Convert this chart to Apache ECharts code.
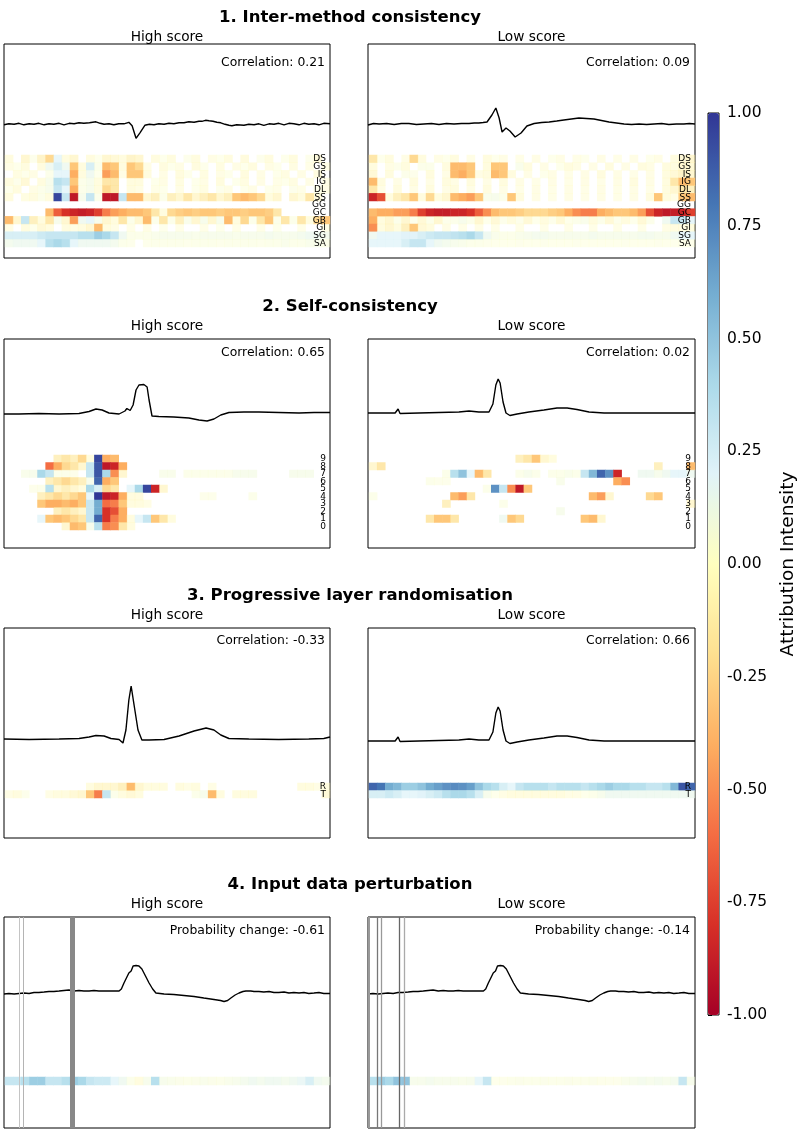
<!DOCTYPE html>
<html>
<head>
<meta charset="utf-8">
<script src="https://cdn.jsdelivr.net/npm/echarts@6/dist/echarts.min.js"></script>
<style>
html, body { margin: 0; padding: 0; background: #fff; }
#main { width: 800px; height: 1133px; }
</style>
</head>
<body>
<div id="main"></div>
<script>
// ---- signals: [time (ms), amplitude] ----
var ecgInterHigh = [[0,-0.01],[15,0.01],[31,0],[46,0.02],[61,-0.01],[77,0.01],[92,0],[107,0.02],[123,-0.01],[138,0.01],[153,0],[169,0.02],[184,-0.01],[200,0.02],[215,0.01],[230,0.03],[245,0.02],[262,0.03],[282,0.05],[295,0.02],[307,0],[322,0.01],[337,-0.01],[352,0.01],[368,0.01],[383,0.04],[393,-0.03],[405,-0.28],[417,-0.17],[432,-0.02],[446,0],[460,-0.01],[475,0.01],[491,0],[506,0.02],[521,0.01],[537,0.03],[552,0.03],[567,0.05],[583,0.04],[598,0.06],[607,0.06],[618,0.08],[629,0.07],[641,0.06],[653,0.04],[665,0.03],[678,0],[690,-0.02],[699,-0.03],[714,-0.01],[736,-0.02],[751,0],[767,-0.01],[782,0.01],[797,-0.02],[813,0.01],[828,0],[843,0.02],[859,-0.01],[874,0.02],[889,0.01],[905,-0.01],[920,0.02],[935,0],[951,0.01],[966,-0.01],[981,0.02],[1000,0.01]];
var ecgInterLow = [[0,-0.02],[17,0.01],[34,0],[57,0.01],[80,-0.01],[102,0.01],[125,0.01],[148,-0.01],[171,0],[194,0.01],[217,-0.01],[240,0.01],[263,0],[286,0.01],[309,0.01],[325,0.02],[339,0.02],[352,0.03],[364,0.04],[379,0.18],[391,0.32],[401,0.12],[410,-0.16],[422,-0.08],[434,-0.14],[450,-0.26],[468,-0.18],[486,-0.04],[508,0.01],[531,0.03],[554,0.04],[577,0.06],[599,0.08],[622,0.1],[645,0.12],[668,0.11],[691,0.1],[714,0.07],[737,0.04],[760,0.02],[783,0],[806,-0.01],[829,0],[852,-0.01],[875,0],[898,0.01],[920,-0.01],[943,0],[966,0],[983,0.01],[1000,0]];
var ecgSelfHigh = [[0,0],[46,0],[107,0.01],[169,0],[230,0.01],[261,0.05],[282,0.1],[301,0.08],[322,0.02],[353,0],[371,0.06],[377,0.11],[387,0.07],[396,0.18],[405,0.48],[414,0.58],[429,0.59],[439,0.54],[445,0.28],[454,-0.04],[475,-0.05],[521,-0.06],[567,-0.08],[598,-0.12],[623,-0.14],[644,-0.1],[665,-0.02],[690,0.03],[736,0.04],[782,0.04],[843,0.03],[905,0.02],[951,0.03],[1000,0.03]];
var ecgLow = [[0,0],[49,0],[83,0],[92,0.08],[98,-0.01],[156,0],[217,0.01],[278,0.02],[309,0.04],[339,0.02],[370,0.02],[382,0.18],[391,0.56],[398,0.68],[404,0.6],[413,0.22],[422,0],[434,-0.05],[456,-0.02],[492,0.02],[538,0.06],[578,0.1],[609,0.1],[639,0.07],[676,0.02],[722,0],[783,0],[859,0],[936,0],[1000,0]];
var ecgRandHigh = [[0,0],[77,-0.01],[169,0],[230,0.01],[261,0.04],[282,0.07],[307,0.06],[328,0.01],[353,-0.01],[365,-0.08],[374,0.18],[383,0.78],[390,1.06],[399,0.68],[411,0.18],[423,-0.02],[445,-0.02],[491,-0.01],[537,0.06],[583,0.16],[620,0.22],[644,0.18],[665,0.08],[690,0.01],[751,0],[843,-0.01],[935,0],[981,0.01],[1000,0.04]];
var ecgPerturb = [[0,-0.02],[15,-0.01],[31,-0.02],[46,-0.01],[61,0],[77,-0.01],[92,0.01],[107,0.01],[123,0.02],[138,0.03],[153,0.03],[169,0.04],[184,0.05],[199,0.06],[215,0.04],[230,0.05],[245,0.04],[261,0.04],[276,0.05],[291,0.04],[307,0.04],[322,0.04],[338,0.04],[353,0.04],[360,0.08],[368,0.2],[383,0.4],[390,0.44],[396,0.54],[405,0.55],[414,0.54],[423,0.48],[434,0.34],[445,0.2],[456,0.08],[466,0],[491,-0.02],[521,-0.03],[552,-0.05],[583,-0.07],[613,-0.1],[644,-0.13],[664,-0.15],[675,-0.17],[686,-0.15],[696,-0.1],[709,-0.04],[721,0],[733,0.03],[742,0.04],[757,0.04],[767,0.03],[782,0.03],[797,0.02],[813,0.03],[828,0.01],[843,0.01],[859,0.02],[874,0],[889,0.01],[905,0],[920,0.01],[935,-0.01],[951,0],[966,0.01],[981,-0.01],[1000,-0.01]];

// ---- heatmap rows (top to bottom), 40 time bins ----
var methodLabels = ['DS','GS','IS','IG','DL','SS','GG','GC','GB','GI','SG','SA'];
var neuronLabels = ['9','8','7','6','5','4','3','2','1','0'];
var layerLabels = ['R','T'];

var interHigh = [
 [-0.05,0,-0.1,0.03,-0.12,-0.25,0.2,-0.05,-0.1,0,-0.05,0.02,-0.1,-0.08,-0.05,-0.12,-0.1,0,-0.05,0.02,-0.05,0,0.03,-0.05,0,-0.03,0.02,-0.05,0,-0.06,0,0.03,-0.05,0,0.02,-0.05,0,0.03,-0.06,0],
 [-0.03,0.02,-0.05,0,-0.05,0.15,0.25,0.15,-0.3,-0.05,0.25,0.05,-0.35,-0.3,-0.05,-0.3,-0.25,-0.03,0,-0.05,0.02,-0.03,0,-0.05,0.02,0,-0.04,0,-0.03,0.02,-0.05,0,-0.03,0.02,0,-0.04,0,-0.02,0,-0.03],
 [0,-0.04,0.02,-0.03,0,0.05,0.2,0.2,-0.4,-0.05,0.15,0.02,-0.45,-0.35,-0.03,-0.3,-0.3,-0.05,0,-0.03,0,-0.05,0.02,0,-0.04,0,-0.03,0.02,0,-0.05,0,-0.03,0,0.02,-0.04,0,-0.03,0,-0.05,0],
 [-0.05,0.03,-0.08,0,-0.05,0.1,0.35,0.3,-0.3,0.05,0.1,-0.05,-0.2,-0.2,0,-0.05,-0.05,0,0.02,-0.03,0,-0.04,0,0.02,-0.03,0,-0.05,0,0.02,-0.04,0,-0.03,0,-0.02,0.02,-0.04,0,-0.03,0,-0.02],
 [0.02,-0.05,0,-0.03,0.05,0.1,0.3,0.2,-0.4,0.05,0.1,-0.05,-0.25,-0.2,0,-0.05,-0.03,0,-0.02,0.02,0,-0.03,0,0.02,-0.04,0,0.03,-0.03,0,0.02,-0.03,0,0.02,-0.02,0,0.03,-0.02,0,0.02,-0.03],
 [-0.05,0,-0.04,-0.05,0.05,-0.05,0.95,0.3,-0.9,0.1,0.3,0.05,-0.9,-0.9,0.3,-0.35,-0.35,-0.1,-0.15,0.05,-0.15,-0.1,-0.2,-0.1,-0.15,-0.2,-0.1,-0.15,-0.3,-0.35,-0.3,-0.25,-0.05,-0.1,0,-0.1,-0.05,-0.2,-0.05,0],
 [0,0,0,0,0,0,0,0,0,0,0,0,0,0,0,0,0,0,0,0,0,0,0,0,0,0,0,0,0,0,0,0,0,0,0,0,0,0,0,0],
 [0,0,0,0,0,-0.35,-0.65,-0.8,-0.85,-0.88,-0.85,-0.75,-0.55,-0.45,-0.4,-0.35,-0.35,-0.3,-0.2,-0.05,-0.25,-0.28,-0.3,-0.28,-0.3,-0.3,-0.28,-0.3,-0.3,-0.28,-0.3,-0.3,-0.28,-0.2,0,0,0,0,0,0],
 [-0.35,-0.1,0.3,-0.15,-0.05,-0.2,0.1,-0.1,-0.45,0.15,0.2,0.1,-0.1,-0.05,-0.2,0.05,-0.1,-0.35,0.05,-0.2,0.05,-0.15,0.08,-0.1,0.1,-0.1,0.1,-0.35,-0.05,-0.25,0.05,-0.2,-0.3,0.05,-0.2,0.05,-0.2,-0.05,-0.25,-0.3],
 [-0.03,0,-0.05,0.02,-0.08,-0.05,0,-0.05,-0.03,-0.05,-0.1,-0.35,-0.05,-0.03,0,-0.02,0,-0.03,0,0.02,0,-0.02,0,0,-0.02,0,0.02,0,-0.02,0,0,-0.02,0,0.02,0,0,-0.02,0,0,-0.02],
 [0.25,0.25,0.25,0.25,0.28,0.3,0.3,0.3,0.3,0.35,0.35,0.45,0.4,0.3,0.15,0.05,0.05,0.05,0.08,0.1,0.1,0.1,0.1,0.08,0.1,0.1,0.1,0.1,0.08,0.1,0.1,0.1,0.12,0.1,0.1,0.1,0.12,0.15,0.15,0.12],
 [0.12,0.15,0.15,0.15,0.2,0.35,0.4,0.35,0.2,0.15,0.15,0.15,0.15,0.12,0.05,0.03,0,0.03,0.05,0.05,0.05,0.05,0.03,0.05,0.05,0.05,0.03,0.05,0.05,0.05,0.05,0.03,0.05,0.05,0.08,0.05,0.05,0.08,0.08,0.05]
];
var interLow = [
 [-0.2,0.02,-0.05,0,-0.03,-0.25,-0.05,0,-0.03,0.02,-0.05,0,-0.03,0,-0.05,0.02,-0.03,0,-0.02,0,-0.03,0,0.02,-0.03,0,-0.02,0.02,0,-0.03,0,-0.02,0,-0.03,0,0.02,-0.03,0,-0.05,-0.08,-0.1],
 [-0.05,0,-0.03,0.03,-0.05,0,0.05,0.05,0,-0.05,-0.35,-0.35,-0.3,0,-0.05,-0.3,-0.3,0,0.08,-0.05,0,-0.03,0,0.02,-0.05,-0.03,0,-0.03,0,-0.05,0,-0.03,0,-0.05,-0.03,0,-0.05,-0.05,-0.1,-0.08],
 [-0.08,0,-0.05,0,0.05,0.03,0,-0.05,0,-0.03,-0.35,-0.4,-0.3,-0.03,-0.05,-0.35,-0.3,-0.05,0,-0.03,0,0.02,-0.03,0,-0.02,0,-0.03,0,-0.05,0,-0.03,0,-0.02,0,-0.03,0,-0.05,-0.08,-0.12,-0.1],
 [-0.35,-0.05,0,-0.03,0,-0.05,0,-0.03,0,-0.05,-0.03,0,-0.05,0,-0.03,0,-0.05,0,-0.03,0,-0.02,0,-0.03,0,-0.02,0,-0.03,0,-0.02,0,-0.03,0,-0.05,0,-0.03,0,-0.05,-0.2,-0.35,-0.3],
 [-0.2,-0.03,0,-0.05,0,-0.03,0,-0.05,0,-0.03,-0.05,0,-0.03,0,-0.05,0,-0.03,0,-0.02,0,-0.03,0,-0.02,0,-0.03,0,-0.02,0,-0.03,0,-0.02,0,-0.03,0,-0.02,0,-0.05,-0.1,-0.2,-0.15],
 [-0.85,-0.7,-0.05,-0.15,-0.2,-0.3,-0.05,-0.25,-0.05,-0.1,-0.35,-0.4,-0.45,-0.3,0.08,0.1,0.05,-0.3,-0.05,0,-0.03,0,-0.02,0,-0.03,0,-0.02,0,-0.03,0,-0.02,0,-0.03,0,-0.05,-0.3,-0.05,-0.03,-0.3,-0.35],
 [0,0,0,0,0,0,0,0,0,0,0,0,0,0,0,0,0,0,0,0,0,0,0,0,0,0,0,0,0,0,0,0,0,0,0,0,0,0,0,0],
 [-0.35,-0.4,-0.4,-0.45,-0.45,-0.55,-0.75,-0.85,-0.88,-0.88,-0.85,-0.85,-0.8,-0.65,-0.5,-0.35,-0.3,-0.3,-0.28,-0.25,-0.25,-0.25,-0.28,-0.3,-0.4,-0.5,-0.55,-0.55,-0.4,-0.35,-0.3,-0.3,-0.35,-0.45,-0.7,-0.85,-0.9,-0.88,-0.85,-0.75],
 [-0.4,-0.05,-0.1,0.05,-0.1,0.03,-0.08,0.05,-0.1,0.03,0.05,0.1,0.05,-0.1,0.02,-0.08,0.03,-0.05,0.03,-0.08,0.02,-0.05,0.03,-0.08,0.02,0.05,0.08,-0.05,0.05,-0.08,0.03,-0.05,0.02,-0.08,0.05,0,0.15,0.3,0.3,0.2],
 [-0.5,-0.05,-0.1,-0.05,-0.15,-0.3,-0.08,-0.05,0,-0.03,0,-0.02,0,-0.03,0,-0.02,0,0,-0.02,0,0,-0.02,0,0,-0.02,0,0,-0.02,0,0,-0.02,0,0,-0.02,0,0,-0.03,-0.05,-0.05,-0.05],
 [0.15,0.2,0.2,0.2,0.22,0.22,0.25,0.28,0.3,0.3,0.32,0.35,0.4,0.3,0.15,0.08,0.05,0.05,0.08,0.1,0.12,0.12,0.1,0.1,0.1,0.1,0.1,0.12,0.1,0.1,0.1,0.1,0.1,0.12,0.12,0.1,0.1,0.15,0.2,0.2],
 [0.2,0.2,0.2,0.2,0.25,0.3,0.3,0.2,0.15,0.12,0.1,0.08,0.05,0.05,0.03,0.02,0.02,0.02,0.03,0.02,0.02,0.03,0.02,0.02,0.02,0.03,0.02,0.02,0.02,0.02,0.02,0.03,0.02,0.02,0.02,0.03,0.02,0.02,0.02,0.02]
];
var selfHigh = [
 [0,0,0,0,0,0,-0.15,-0.2,-0.15,-0.25,-0.05,0.95,-0.4,-0.35,0,0,0,0,0,0,0,0,0,0,0,0,0,0,0,0,0,0,0,0,0,0,0,0,0,0],
 [0,0,0,0,0,-0.6,-0.4,-0.25,-0.2,-0.1,0.3,0.9,-0.9,-0.85,-0.4,0,0,0,0,0,0,0,0,0,0,0,0,0,0,0,0,0,0,0,0,0,0,0,0,0],
 [0,0,0.08,0.1,0.4,0.3,0.05,0.05,0.03,0,0.3,0.9,0.4,-0.5,-0.1,0,0,0,0,0.08,0.08,0,0.05,0.05,0.05,0.05,0.05,0.05,0.1,0.1,0.1,0,0,0,0,0.1,0.1,0.1,0,0],
 [0,0,0,0,0,-0.15,-0.2,-0.25,-0.2,-0.15,0.1,0.85,-0.4,-0.3,0,0,0,0,0,0,0,0,0,0,0,0,0,0,0,0,0,0,0,0,0,0,0,0,0,0],
 [0,0,0,0.03,0.05,0.35,-0.1,-0.15,-0.1,-0.05,0.4,0.25,-0.25,-0.2,0,0.2,0.4,0.95,-0.85,-0.1,0,0,0,0,0,0,0,0,0,0,0,0,0,0,0,0,0,0,0,0],
 [0,0,0,0,-0.15,-0.2,-0.25,-0.2,-0.25,-0.3,0.2,1,-0.9,-0.85,-0.4,-0.05,-0.05,0,0,0,0,0,0,0,0.03,0.03,0,0,0,0,0.05,0,0,0,0,0,0,0,0,0],
 [0,0,0,0,-0.3,-0.4,-0.4,-0.35,-0.4,-0.3,0.3,0.6,-0.6,-0.55,-0.3,-0.05,-0.05,-0.03,0,0,0,0,0,0,0,0,0,0,0,0,0,0,0,0,0,0,0,0,0,0],
 [0,0,0,0,0,0,-0.15,-0.2,-0.15,-0.1,0.3,0.6,-0.8,-0.7,-0.4,0,0,0,0,0,0,0,0,0,0,0,0,0,0,0,0,0,0,0,0,0,0,0,0,0],
 [0,0,0,0,0.2,-0.3,-0.35,-0.3,-0.25,-0.2,0.3,0.85,-0.8,-0.55,-0.4,-0.05,0.2,0.3,-0.3,-0.2,-0.05,0,0,0,0,0,0,0,0,0,0,0,0,0,0,0,0,0,0,0],
 [0,0,0,0,0,0,0,-0.1,-0.35,-0.3,0.1,0.35,-0.55,-0.5,-0.2,-0.05,0,0,0,0,0,0,0,0,0,0,0,0,0,0,0,0,0,0,0,0,0,0,0,0]
];
var selfLow = [
 [0,0,0,0,0,0,0,0,0,0,0,0,0,0,0,0,0,0,-0.15,-0.2,-0.3,-0.1,-0.05,0,0,0,0,0,0,0,0,0,0,0,0,0,0,0,0,0],
 [-0.1,-0.2,0,0,0,0,0,0,0,0,0,0,0,0,0,0,0,0,0,0,0,0,0,0,0,0,0,0,0,0,0,0,0,0,0,-0.15,0,0,0,-0.35],
 [0,0,0,0,0,0,0,0,0,0.05,0.35,0.5,0.2,-0.35,-0.2,0,0,0,0.05,0.1,0.05,0,0.05,0.05,0.08,0.05,0.3,0.55,0.85,0.7,-0.85,0,0,0.15,0.15,0.1,0.15,0.2,0.2,0.15],
 [0,0,0,0,0,0,0,0.05,0.03,0.03,0,0,0,0,0,0,0,0,0,0,0,0,0,0.08,0,0,0,0,0,0,-0.4,-0.5,0,0,0,0,0,0,0,0],
 [0,0,0,0,0,0,0,0,0,0,0,0,0,0,0.05,0.7,0.3,-0.5,-0.9,-0.3,0,0,0,0,0,0,0,0,0,0,0,0,0,0,0,0,0,0,0,0],
 [0.05,0,0,0,0,0,0,0,0,0,-0.35,-0.45,-0.2,0,0,0,0,0,0,0,0,0,0,0,0,0,0,-0.35,-0.45,-0.1,0,0,0,0,-0.25,-0.3,0,0,0,0],
 [0,0,0,0,0,0,0,0,0,-0.15,0,0,0,0,0,0,0.05,0,0,0,0,0,0,0,0,0,0,0,0,0,0,0,0,0,0,0,0,0,0,-0.1],
 [0,0,0,0,0,0,0,0,0,0,0,0,0,0,0,0,0,0,0,0,0,0,0,0.1,0,0,0,0,0,0,0,0,0,0,0,0,0,0,0,0],
 [0,0,0,0,0,0,0,-0.2,-0.3,-0.3,-0.2,0,0,0,0,0,0.15,-0.3,-0.25,0,0,0,0,0,0,0,-0.3,-0.35,-0.1,0,0,0,0,0,0,0,0,0,0,0],
 [0,0,0,0,0,0,0,0,0,0,0,0,0,0,0,0,0,0,0,0,0,0,0,0,0,0,0,0,0,0,0,0,0,0,0,0,0,0,0,0]
];
var randHigh = [
 [0,0,0,0,0,0,0,0,0,0,-0.05,-0.1,-0.1,-0.1,-0.15,-0.35,-0.1,-0.05,-0.05,-0.05,0,-0.05,-0.03,-0.05,0,-0.03,0,0,0,0,0,0,0,0,0,0,-0.05,-0.05,-0.03,-0.05],
 [-0.03,-0.05,0.03,0,0,-0.03,-0.05,-0.05,-0.08,-0.1,-0.3,-0.55,0.3,0.05,-0.05,-0.08,-0.05,0,0,0,0,0,0,0.05,0.1,-0.35,-0.05,0,-0.05,-0.05,-0.05,0,0,0,0,0,0,0,0,-0.08]
];
var randLow = [
 [0.85,0.8,0.6,0.55,0.45,0.45,0.5,0.6,0.65,0.7,0.72,0.7,0.65,0.5,0.4,0.35,0.25,0.2,0.3,0.35,0.35,0.35,0.3,0.35,0.35,0.35,0.3,0.35,0.4,0.45,0.4,0.4,0.35,0.35,0.3,0.3,0.35,0.55,0.9,0.85],
 [0.25,0.25,0.28,0.25,0.2,0.2,0.22,0.25,0.28,0.35,0.4,0.4,0.35,0.25,0.1,0.02,-0.03,-0.05,-0.05,-0.05,-0.05,-0.05,-0.05,-0.05,-0.03,-0.03,0.02,0.05,0.1,0.15,0.15,0.15,0.15,0.15,0.15,0.15,0.15,0.15,0.15,0.15]
];
var perturbHigh = [[0.3,0.3,0.35,0.45,0.45,0.3,0.3,0.35,0.45,0.4,0.3,0.28,0.28,0.2,0.15,0.05,-0.05,0.1,0.35,0.1,0.08,0.06,0.05,0.06,0.08,0.06,0.05,0.08,0.1,0.12,0.15,0.12,0.15,0.15,0.12,0.15,0.18,0.25,0.15,0.12]];
var perturbLow = [[0.35,0.45,0.4,0.5,0.5,0.1,0.1,0.12,0.1,0.1,0.1,0.08,0.1,0.2,0.3,0.02,0.03,0.05,0.06,0.05,0.05,0.06,0.05,0.05,0.06,0.05,0.05,0.06,0.04,0.03,0.03,0.08,0.1,0.12,0.1,0.12,0.1,0.12,0.3,0.1]];

var correlations = ['0.21', '0.09', '0.65', '0.02', '-0.33', '0.66'];
var probChanges = ['-0.61', '-0.14'];
// perturbed time points (ms)
var perturbedHigh = [48, 58, 209];
var perturbedLow = [2, 28, 39, 95, 112];

var sectionTitles = ['1. Inter-method consistency', '2. Self-consistency', '3. Progressive layer randomisation', '4. Input data perturbation'];
var colTitles = ['High score', 'Low score'];

// ---- layout ----
var FONT = '"DejaVu Sans", sans-serif';
var rdylbu = ['#a50026','#d73027','#f46d43','#fdae61','#fee090','#ffffbf','#e0f3f8','#abd9e9','#74add1','#4575b4','#313695'];
var colLeft = [4, 368], colWidth = [326, 327];
var rowTop = [44, 339, 628, 917], rowHeight = [214, 209, 210, 211];
var heatTop = [155, 455, 783, 1077], heatHeight = [92, 75, 15, 8];
var titleY = [18, 307, 596, 885], subY = [37.5, 326.5, 615.5, 904.5], scoreY = [63, 353, 641, 931];
var PX_PER_UNIT = 50;

var panels = [
  {ecg: ecgInterHigh, base: 124.3, heat: interHigh, labels: methodLabels, text: 'Correlation: ' + correlations[0]},
  {ecg: ecgInterLow, base: 124, heat: interLow, labels: methodLabels, text: 'Correlation: ' + correlations[1]},
  {ecg: ecgSelfHigh, base: 414, heat: selfHigh, labels: neuronLabels, text: 'Correlation: ' + correlations[2]},
  {ecg: ecgLow, base: 413, heat: selfLow, labels: neuronLabels, text: 'Correlation: ' + correlations[3]},
  {ecg: ecgRandHigh, base: 739, heat: randHigh, labels: layerLabels, text: 'Correlation: ' + correlations[4]},
  {ecg: ecgLow, base: 741, heat: randLow, labels: layerLabels, text: 'Correlation: ' + correlations[5]},
  {ecg: ecgPerturb, base: 993, heat: perturbHigh, labels: [''], text: 'Probability change: ' + probChanges[0], marks: perturbedHigh,
   markStyle: [{color: '#c4c4c4', width: 1}, {color: '#b4b4b4', width: 1}, {color: '#888', width: 5}]},
  {ecg: ecgPerturb, base: 993, heat: perturbLow, labels: [''], text: 'Probability change: ' + probChanges[1], marks: perturbedLow,
   markStyle: [{color: '#999', width: 2}, {color: '#777', width: 1.3}, {color: '#999', width: 1.3}, {color: '#666', width: 1.3}, {color: '#aaa', width: 1.3}]}
];

var grid = [], xAxis = [], yAxis = [], graphic = [];
var ecgSeries = [], heatSeries = [];

panels.forEach(function (p, i) {
  var row = Math.floor(i / 2), col = i % 2;
  var L = colLeft[col], W = colWidth[col], T = rowTop[row], H = rowHeight[row];
  var off = p.base - T;
  // signal grid (also the panel frame)
  grid.push({left: L, top: T, width: W, height: H, show: true, borderColor: '#000', borderWidth: 1, backgroundColor: 'transparent'});
  var gi = grid.length - 1;
  xAxis.push({gridIndex: gi, type: 'value', min: 0, max: 1000, show: false});
  yAxis.push({gridIndex: gi, type: 'value', min: -(H - off) / PX_PER_UNIT, max: off / PX_PER_UNIT, show: false});
  var s = {
    type: 'line', xAxisIndex: gi, yAxisIndex: gi, data: p.ecg, symbol: 'none', z: 3, silent: true,
    lineStyle: {color: '#000', width: 1.4}
  };
  if (p.marks) {
    s.markLine = {
      silent: true, symbol: ['none', 'none'], label: {show: false},
      data: p.marks.map(function (t, k) {
        return {xAxis: t, lineStyle: {color: p.markStyle[k].color, width: p.markStyle[k].width, type: 'solid'}};
      })
    };
  }
  ecgSeries.push(s);

  // heatmap grid
  grid.push({left: L + 1, top: heatTop[row], width: W - 1, height: heatHeight[row]});
  var hi = grid.length - 1;
  var cols = [];
  for (var c = 0; c < p.heat[0].length; c++) cols.push(c);
  xAxis.push({gridIndex: hi, type: 'category', data: cols, show: false});
  yAxis.push({
    gridIndex: hi, type: 'category', data: p.labels, inverse: true, position: 'right', z: 10,
    axisLine: {show: false}, axisTick: {show: false}, splitLine: {show: false},
    axisLabel: {inside: true, interval: 0, margin: 4, fontSize: 9, color: '#000', fontFamily: FONT, lineHeight: 8}
  });
  // [bin, row, value, |value| (capped) for the fade-out near zero]
  var hd = [];
  p.heat.forEach(function (r, ri) {
    r.forEach(function (v, ci) { if (v !== 0) hd.push([ci, ri, v, Math.min(Math.abs(v), 0.3)]); });
  });
  heatSeries.push({type: 'heatmap', xAxisIndex: hi, yAxisIndex: hi, data: hd, z: 2, silent: true,
    itemStyle: {borderWidth: 0}});

  // texts
  graphic.push({type: 'text', x: L + W - 5, y: scoreY[row], z: 20,
    style: {text: p.text, font: '12.4px ' + FONT, fill: '#000', textAlign: 'right', textVerticalAlign: 'middle'}});
  graphic.push({type: 'text', x: L + W / 2, y: subY[row], z: 20,
    style: {text: colTitles[col], font: '13.7px ' + FONT, fill: '#000', textAlign: 'center', textVerticalAlign: 'middle'}});
});

sectionTitles.forEach(function (t, r) {
  graphic.push({type: 'text', x: 350, y: titleY[r], z: 20,
    style: {text: t, font: 'bold 16.5px ' + FONT, fill: '#000', textAlign: 'center', textVerticalAlign: 'middle'}});
});

var series = ecgSeries.concat(heatSeries);
var heatIdx = heatSeries.map(function (s, k) { return ecgSeries.length + k; });

// colorbar axis
grid.push({left: 708, top: 113, width: 11, height: 902, show: true, borderColor: '#000', borderWidth: 1, backgroundColor: 'transparent'});
var cb = grid.length - 1;
xAxis.push({gridIndex: cb, type: 'value', show: false});
yAxis.push({
  gridIndex: cb, type: 'value', min: -1, max: 1, interval: 0.25, position: 'right',
  axisLine: {show: false}, splitLine: {show: false},
  axisTick: {show: true, length: 4, lineStyle: {color: '#000', width: 1}},
  axisLabel: {margin: 8, fontSize: 15.5, color: '#000', fontFamily: FONT,
    formatter: function (v) { return v.toFixed(2); }},
  name: 'Attribution Intensity', nameLocation: 'middle', nameGap: 60,
  nameTextStyle: {fontSize: 18.5, color: '#000', fontFamily: FONT}
});

var option = {
  backgroundColor: '#fff',
  animation: false,
  textStyle: {fontFamily: FONT},
  grid: grid,
  xAxis: xAxis,
  yAxis: yAxis,
  visualMap: [{
    type: 'continuous', min: -1, max: 1, dimension: 2, left: 708, top: 113, itemWidth: 11, itemHeight: 902,
    padding: 0, calculable: false, seriesIndex: heatIdx, inRange: {color: rdylbu}, text: null
  }, {
    type: 'continuous', show: false, min: 0, max: 0.3, dimension: 3, seriesIndex: heatIdx,
    inRange: {colorAlpha: [0.3, 1]}
  }],
  graphic: graphic,
  series: series
};

var myChart = echarts.init(document.getElementById('main'));
myChart.setOption(option);
</script>
</body>
</html>
